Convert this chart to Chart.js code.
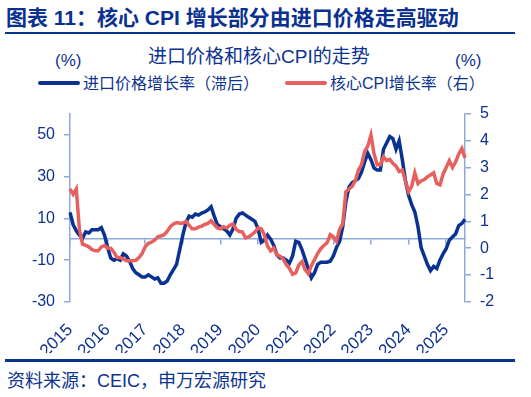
<!DOCTYPE html>
<html>
<head>
<meta charset="utf-8">
<script src="https://cdn.jsdelivr.net/npm/chart.js@4.4.0/dist/chart.umd.min.js"></script>
<style>
  body { margin: 0; width: 531px; height: 397px; background: #fff; position: relative; overflow: hidden;
         font-family: "Liberation Sans", "Noto Sans CJK SC", sans-serif; color: #0d3390; }
  .abs { position: absolute; white-space: nowrap; }
  #title { left: 6px; top: 5px; font-size: 21px; font-weight: bold; line-height: 26px; color: #0a3190; }
  .rule { position: absolute; left: 5px; width: 510px; background: #0a3492; }
  #subtitle { left: 148px; top: 45px; font-size: 19px; line-height: 24px; }
  .unit { top: 50px; font-size: 17px; line-height: 22px; }
  .leg { top: 74px; font-size: 16px; line-height: 20px; }
  .swatch { display: inline-block; width: 42px; height: 4px; border-radius: 2px; vertical-align: middle; margin-right: 3px; position: relative; top: -2px; }
  #source { left: 7px; top: 369px; font-size: 18px; line-height: 24px; }
  canvas { position: absolute; left: 0; top: 95px; }
</style>
</head>
<body>
<div id="title" class="abs">图表 11：核心 CPI 增长部分由进口价格走高驱动</div>
<div class="rule" style="top:32px;height:2px"></div>
<div id="subtitle" class="abs">进口价格和核心CPI的走势</div>
<div class="abs unit" style="left:55px">(%)</div>
<div class="abs unit" style="left:455px">(%)</div>
<div class="abs leg" style="left:38px"><span class="swatch" style="background:#0a3293"></span>进口价格增长率（滞后）</div>
<div class="abs leg" style="left:285px"><span class="swatch" style="background:#e8605d"></span>核心CPI增长率（右）</div>
<canvas id="c" width="531" height="258"></canvas>
<div class="rule" style="top:359px;height:2.5px"></div>
<div id="source" class="abs">资料来源：CEIC，申万宏源研究</div>

<script>
// monthly categories, Jan 2015 .. Jul 2025
const months = [];
for (let y = 2015; y <= 2025; y++) {
  for (let m = 1; m <= 12; m++) {
    if (y === 2025 && m > 7) break;
    months.push(y + '-' + String(m).padStart(2, '0'));
  }
}

const yearLabels = ['2015', '2016', '2017', '2018', '2019', '2020', '2021', '2022', '2023', '2024', '2025'];
const leftTicks = [-30, -10, 10, 30, 50];
const rightTicks = [-2, -1, 0, 1, 2, 3, 4, 5];

// 进口价格增长率（滞后）, %, left axis
const importPrice = [
  12.8, 7, 4, 2, 0.5, 3.5, 3, 4.5, 4.5, 4.5, 5.5, 2,
  -4, -9, -10, -9.3, -10, -7, -8, -10.5, -14, -16, -17, -18,
  -18, -17, -18, -19, -18.5, -21, -21, -20, -17, -14.5, -12, -5,
  2, 8, 11, 10.5, 12, 11.5, 12.5, 13, 14, 15.5, 11, 7,
  6, 5, 4, 2, 5, 10, 12, 12.5, 11.5, 10.5, 9.5, 8.5,
  5, -1.5, -0.5, 2, 0, -3, -7.5, -9, -9, -10, -11.5, -8,
  -1, -1.5, -5, -9.5, -14, -18.5, -16, -12, -11, -11, -11, -10.5,
  -8, -4, -1, 6, 18, 25, 27, 28, 29, 32, 37, 41,
  38, 34, 33, 33, 43, 46, 49, 48, 43, 47, 38, 28,
  21, 16.5, 13, 6, -4, -8, -12, -15, -13, -14, -10, -7,
  -4.5, -0.5, 1, 2.5, 6.5, 7.5, 9.5
];

// 核心CPI增长率（右）, %, right axis
const coreCpi = [
  2.2, 2.0, 2.2, 0.7, 0.15, 0.1, 0.05, -0.05, -0.1, -0.1, 0.05, 0.1,
  0.0, 0.0, -0.15, -0.35, -0.35, -0.4, -0.47, -0.47, -0.47, -0.45, -0.35, -0.2,
  0.05, 0.18, 0.22, 0.3, 0.42, 0.45, 0.5, 0.62, 0.8, 0.9, 0.95, 0.93,
  0.93, 1.0, 0.85, 0.72, 0.72, 0.78, 0.82, 0.88, 0.92, 1.02, 0.88, 0.75,
  0.72, 0.8, 0.75, 0.85, 0.9, 0.7, 0.62, 0.6, 0.38, 0.42, 0.5, 0.6,
  0.75, 0.72, 0.5, 0.08, -0.1, 0.0, -0.25, -0.3, -0.4, -0.62, -0.75, -0.97,
  -0.92, -0.62, -0.5, -0.8, -0.95, -0.65, -0.42, -0.2, -0.02, 0.1, 0.2, 0.5,
  0.42, 0.25, 0.7, 0.9, 2.1, 2.2, 2.3, 2.5, 2.9, 3.1, 3.6, 3.8,
  4.2, 3.5, 3.1, 3.1, 3.4, 3.25, 3.3, 3.15, 3.05, 2.85, 2.9, 2.5,
  2.1, 2.3, 2.8, 2.4, 2.5, 2.55, 2.65, 2.72, 2.8, 2.4, 2.35, 2.75,
  3.0, 3.25, 3.0, 3.2, 3.5, 3.7, 3.35
];

const textColor = '#0d3390';
const axisColor = '#8eaadc';
const tickFont = { family: '"Liberation Sans", Arial, sans-serif', size: 16 };

const januaryOnly = (scale) => {
  scale.ticks = scale.ticks.filter(t => months[t.value].endsWith('-01'));
};

new Chart(document.getElementById('c'), {
  type: 'line',
  data: {
    labels: months,
    datasets: [
      {
        label: '进口价格增长率（滞后）',
        data: importPrice,
        yAxisID: 'y',
        xAxisID: 'x',
        borderColor: '#0a3293',
        borderWidth: 3.5,
        pointRadius: 0,
        order: 1
      },
      {
        label: '核心CPI增长率（右）',
        data: coreCpi,
        yAxisID: 'y1',
        xAxisID: 'x',
        borderColor: '#e8605d',
        borderWidth: 3.5,
        pointRadius: 0,
        order: 0
      }
    ]
  },
  options: {
    responsive: false,
    animation: false,
    devicePixelRatio: 1,
    layout: { padding: { top: 10, left: 0, right: 0, bottom: 0 } },
    plugins: { legend: { display: false }, title: { display: false }, tooltip: { enabled: false } },
    scales: {
      x: {
        type: 'category',
        position: 'bottom',
        grid: { display: false },
        border: { display: false },
        afterBuildTicks: januaryOnly,
        afterFit: (s) => { s.height = 51; },
        ticks: {
          autoSkip: false,
          minRotation: 45,
          maxRotation: 45,
          padding: 10,
          color: textColor,
          font: { family: tickFont.family, size: 17 },
          callback: (v) => yearLabels[yearLabels.indexOf(months[v].slice(0, 4))]
        }
      },
      x2: {
        type: 'category',
        position: { y: 0 },
        afterBuildTicks: januaryOnly,
        grid: { display: true, drawOnChartArea: false, drawTicks: true, tickLength: 5, color: axisColor, lineWidth: 1.5 },
        border: { display: true, color: axisColor, width: 1.5 },
        ticks: { display: false }
      },
      y: {
        position: 'left',
        min: -30,
        max: 60,
        afterBuildTicks: (s) => { s.ticks = leftTicks.map(v => ({ value: v })); },
        afterFit: (s) => { s.width = 70; },
        grid: { display: true, drawOnChartArea: false, tickLength: 6, color: axisColor, lineWidth: 1.5 },
        border: { display: true, color: axisColor, width: 1.5 },
        ticks: { padding: 9, color: textColor, font: tickFont }
      },
      y1: {
        position: 'right',
        min: -2,
        max: 5,
        afterBuildTicks: (s) => { s.ticks = rightTicks.map(v => ({ value: v })); },
        afterFit: (s) => { s.width = 66; },
        grid: { display: true, drawOnChartArea: false, tickLength: 6, color: axisColor, lineWidth: 1.5 },
        border: { display: true, color: axisColor, width: 1.5 },
        ticks: { padding: 9, color: textColor, font: tickFont }
      }
    }
  }
});
</script>
</body>
</html>
